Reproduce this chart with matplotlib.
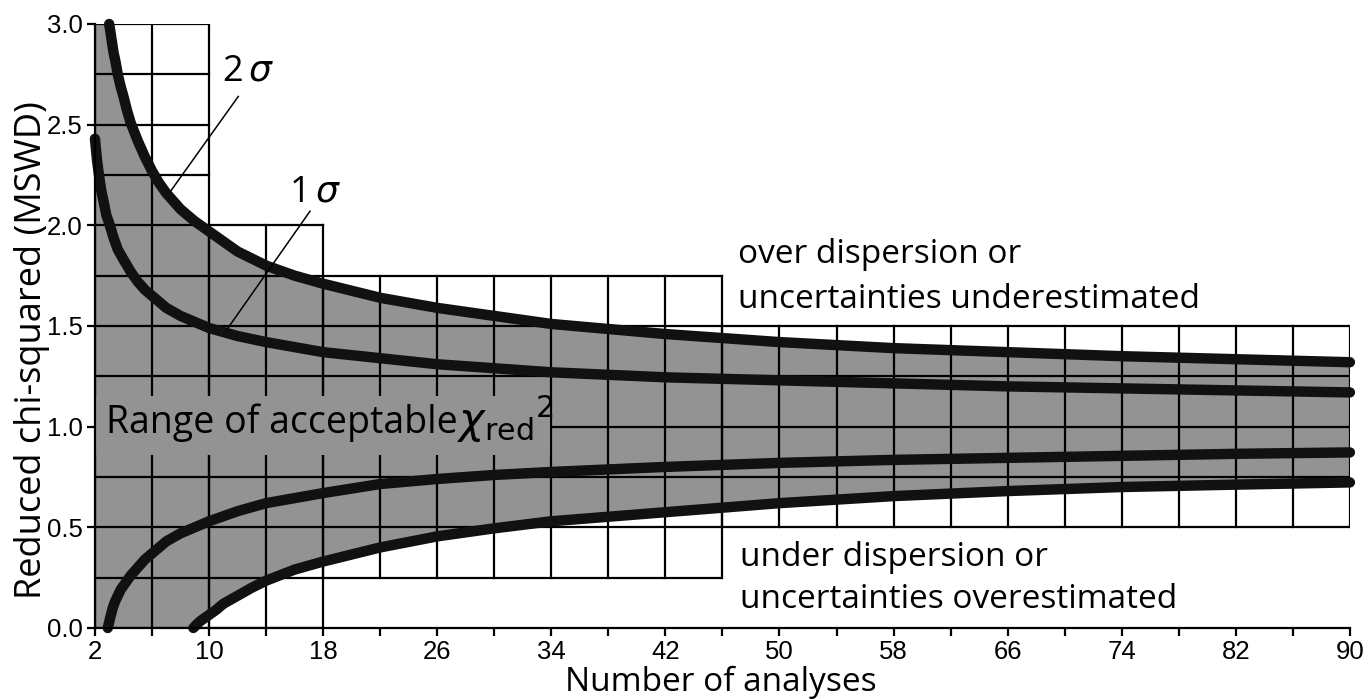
import matplotlib.pyplot as plt
import numpy as np
from matplotlib.patches import Rectangle

# curves: number of analyses vs reduced chi-squared
up2_x = [3.0, 3.15, 3.3, 3.45, 3.6, 3.8, 4.0, 4.25, 4.5, 5.0, 5.5, 6.0, 6.5, 7.0, 8.0, 9.0, 10, 12, 14, 16, 18, 22, 26, 30, 34, 42, 50, 58, 66, 74, 82, 90]
up2_y = [3.00, 2.93, 2.86, 2.81, 2.75, 2.69, 2.64, 2.57, 2.51, 2.42, 2.34, 2.27, 2.21, 2.16, 2.08, 2.02, 1.97, 1.87, 1.80, 1.75, 1.71, 1.64, 1.59, 1.55, 1.51, 1.46, 1.42, 1.39, 1.37, 1.35, 1.335, 1.32]

up1_x = [2.0, 2.15, 2.3, 2.45, 2.6, 2.8, 3.0, 3.3, 3.6, 4.0, 4.5, 5.0, 5.5, 6.0, 7.0, 8.0, 10, 12, 14, 18, 22, 26, 30, 34, 42, 50, 58, 66, 74, 82, 90]
up1_y = [2.43, 2.32, 2.24, 2.17, 2.12, 2.05, 2.01, 1.94, 1.88, 1.83, 1.77, 1.72, 1.68, 1.65, 1.59, 1.55, 1.49, 1.45, 1.42, 1.37, 1.34, 1.31, 1.29, 1.27, 1.245, 1.23, 1.215, 1.20, 1.19, 1.18, 1.17]

lo1_x = [2.9, 3.0, 3.1, 3.25, 3.4, 3.6, 3.8, 4.0, 4.5, 5.0, 5.5, 6.0, 7.0, 8.0, 10, 12, 14, 18, 22, 26, 30, 34, 42, 50, 58, 66, 74, 82, 90]
lo1_y = [0.0, 0.03, 0.06, 0.10, 0.13, 0.16, 0.19, 0.21, 0.26, 0.30, 0.34, 0.37, 0.43, 0.47, 0.53, 0.58, 0.62, 0.67, 0.715, 0.74, 0.76, 0.775, 0.80, 0.82, 0.835, 0.845, 0.855, 0.865, 0.872]

lo2_x = [8.9, 9.1, 9.4, 9.7, 10, 10.5, 11, 12, 13, 14, 16, 18, 22, 26, 30, 34, 42, 50, 58, 66, 74, 82, 90]
lo2_y = [0.0, 0.015, 0.035, 0.05, 0.065, 0.09, 0.12, 0.16, 0.20, 0.235, 0.29, 0.33, 0.40, 0.455, 0.495, 0.53, 0.575, 0.62, 0.655, 0.68, 0.70, 0.712, 0.723]

# stepped grid blocks (x from, x to, y from, y to)
block_x0 = [2, 10, 18, 46]
block_x1 = [10, 18, 46, 90]
block_lo = [0.0, 0.0, 0.25, 0.5]
block_hi = [3.0, 2.0, 1.75, 1.5]

x_major = [2, 10, 18, 26, 34, 42, 50, 58, 66, 74, 82, 90]
x_minor = [6, 14, 22, 30, 38, 46, 54, 62, 70, 78, 86]
y_ticks = [0.0, 0.5, 1.0, 1.5, 2.0, 2.5, 3.0]

plt.rcParams['font.family'] = ['Open Sans', 'DejaVu Sans']
plt.rcParams['mathtext.fontset'] = 'dejavusans'

gray = '#939393'
fig = plt.figure(figsize=(13.72, 6.99), dpi=100)
ax = fig.add_axes([0.0692, 0.1016, 0.9147, 0.8641])
ax.set_xlim(2, 90)
ax.set_ylim(0, 3.0)

# gray band between the 2 sigma curves
poly_x = np.concatenate([[2], up2_x, lo2_x[::-1], [2]])
poly_y = np.concatenate([[3.0], up2_y, lo2_y[::-1], [0.0]])
ax.fill(poly_x, poly_y, color=gray, lw=0, zorder=1)

# the stepped grid
for x0, x1, lo, hi in zip(block_x0, block_x1, block_lo, block_hi):
    for xv in np.arange(x0, x1 + 0.1, 4):
        ax.plot([xv, xv], [lo, hi], color='black', lw=1.6, zorder=2, solid_capstyle='projecting')
    for yv in np.arange(lo, hi + 0.01, 0.25):
        ax.plot([x0, x1], [yv, yv], color='black', lw=1.6, zorder=2, solid_capstyle='projecting')

# gray patch behind the label
ax.add_patch(Rectangle((2.1, 0.86), 31.8, 0.29, facecolor=gray, edgecolor='none', zorder=2.5))

for xs, ys in [(up2_x, up2_y), (up1_x, up1_y), (lo1_x, lo1_y), (lo2_x, lo2_y)]:
    ax.plot(xs, ys, color='#111111', lw=7.5, solid_capstyle='round',
            solid_joinstyle='round', zorder=3, clip_on=False)

# leader lines
ax.plot([12.05, 7.26], [2.64, 2.165], color='black', lw=1.1, zorder=3)
ax.plot([17.08, 11.23], [2.07, 1.48], color='black', lw=1.1, zorder=3)

ax.text(10.9, 2.72, r'2$\,\sigma$', fontsize=26, ha='left', va='baseline')
ax.text(15.6, 2.12, r'1$\,\sigma$', fontsize=26, ha='left', va='baseline')

ax.text(2.8, 0.97, 'Range of acceptable', fontsize=27, ha='left', va='baseline', zorder=5)
ax.text(27.4, 0.965, r'$\chi_{\mathrm{red}}{}^{2}$', fontsize=31, ha='left', va='baseline', zorder=5)

ax.text(47.1, 1.815, 'over dispersion or', fontsize=24, ha='left', va='baseline')
ax.text(47.1, 1.59, 'uncertainties underestimated', fontsize=24, ha='left', va='baseline')
ax.text(47.2, 0.31, 'under dispersion or', fontsize=24, ha='left', va='baseline')
ax.text(47.2, 0.10, 'uncertainties overestimated', fontsize=24, ha='left', va='baseline')

ax.set_xticks(x_major)
ax.set_xticks(x_minor, minor=True)
ax.set_yticks(y_ticks)
ax.set_yticklabels(['%.1f' % v for v in y_ticks])
ax.tick_params(which='both', length=6, width=1.6, direction='out', labelsize=18.5, pad=3)
for lab in ax.get_xticklabels() + ax.get_yticklabels():
    lab.set_family('Liberation Sans')

ax.spines['top'].set_visible(False)
ax.spines['right'].set_visible(False)
for s in ['left', 'bottom']:
    ax.spines[s].set_linewidth(1.6)
    ax.spines[s].set_zorder(4)

ax.set_xlabel('Number of analyses', fontsize=24)
ax.xaxis.set_label_coords(0.499, -0.063)
ax.set_ylabel('Reduced chi-squared (MSWD)', fontsize=26)
ax.yaxis.set_label_coords(-0.036, 0.46)

plt.savefig('out.png', dpi=100)
